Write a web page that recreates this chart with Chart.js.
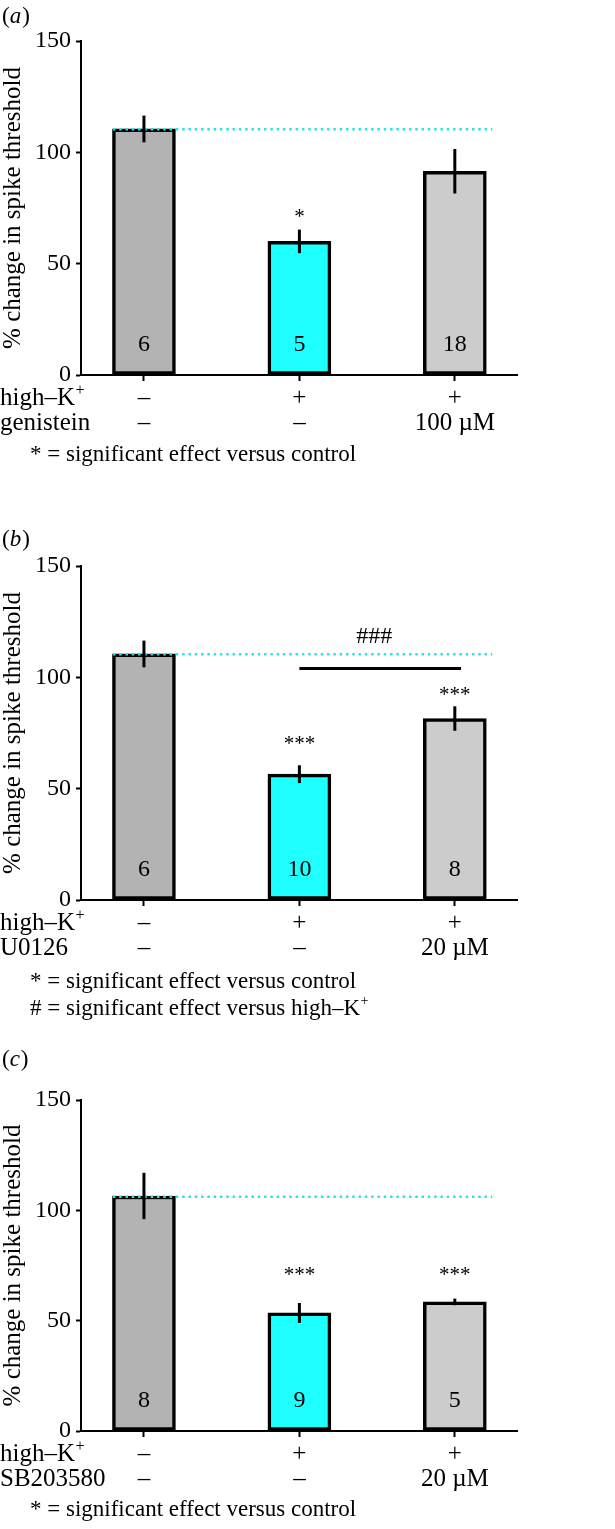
<!DOCTYPE html>
<html>
<head>
<meta charset="utf-8">
<script src="https://cdn.jsdelivr.net/npm/chart.js@4.4.1/dist/chart.umd.min.js"></script>
<style>
  body { margin: 0; background: #fff; }
  #wrap { position: relative; width: 615px; height: 1529px; }
  canvas { position: absolute; left: 0; }
</style>
</head>
<body>
<div id="wrap">
  <canvas id="panelA" width="615" height="480" style="top:0px"></canvas>
  <canvas id="panelB" width="615" height="540" style="top:480px"></canvas>
  <canvas id="panelC" width="615" height="509" style="top:1020px"></canvas>
</div>
<script>
// ---- data ----
const highK = ['–', '+', '+'];
const genistein = ['–', '–', '100 µM'];
const u0126 = ['–', '–', '20 µM'];
const sb203580 = ['–', '–', '20 µM'];

const meanA = [110.5, 60, 91.5];
const semA = [6, 5.3, 10];
const nA = ['6', '5', '18'];
const starsA = ['', '*', ''];
const starLevelA = [null, 73.2, null];
const controlA = 110.4;

const meanB = [110.5, 56.5, 81.5];
const semB = [6, 4, 5.5];
const nB = ['6', '10', '8'];
const starsB = ['', '***', '***'];
const starLevelB = [null, 72.2, 94];
const controlB = 110.4;
const hashB = { text: '###', from: 1, to: 2.04, level: 104, textLevel: 118.3 };

const meanC = [106.5, 53.5, 58.5];
const semC = [10.5, 4.5, 1.5];
const nC = ['8', '9', '5'];
const starsC = ['', '***', '***'];
const starLevelC = [null, 72.6, 72.6];
const controlC = 106.2;

const yTicks = [0, 50, 100, 150];
const barColors = ['#b3b3b3', '#1effff', '#cccccc'];

const SERIF = '"Liberation Serif", "Times New Roman", serif';
const LINE_H = 25;

// text with an optional raised "+" at the end (for K+)
function textSup(ctx, str, sup, x, y, size) {
  ctx.font = size + 'px ' + SERIF;
  ctx.fillText(str, x, y);
  if (!sup) return;
  const w = ctx.measureText(str).width;
  ctx.font = Math.round(size * 0.62) + 'px ' + SERIF;
  ctx.fillText(sup, x + w + 0.5, y - size * 0.3);
}

function makePanel(id, p) {
  const annot = {
    id: 'annot',
    afterDatasetsDraw(chart) {
      const ctx = chart.ctx, x = chart.scales.x, y = chart.scales.y;
      ctx.save();
      // error bars
      ctx.strokeStyle = '#000';
      ctx.lineWidth = 3;
      p.mean.forEach((m, i) => {
        const px = x.getPixelForValue(i);
        ctx.beginPath();
        ctx.moveTo(px, y.getPixelForValue(m - p.sem[i]));
        ctx.lineTo(px, y.getPixelForValue(m + p.sem[i]));
        ctx.stroke();
      });
      // n inside bars
      ctx.fillStyle = '#000';
      ctx.textAlign = 'center';
      ctx.textBaseline = 'middle';
      ctx.font = '24px ' + SERIF;
      p.n.forEach((t, i) => ctx.fillText(t, x.getPixelForValue(i), y.getPixelForValue(13.8)));
      // significance stars
      ctx.font = '21px ' + SERIF;
      p.stars.forEach((t, i) => {
        if (!t) return;
        ctx.fillText(t, x.getPixelForValue(i), y.getPixelForValue(p.starLevel[i]) + 5);
      });
      // ### bracket
      if (p.hash) {
        const h = p.hash;
        ctx.beginPath();
        ctx.lineWidth = 3;
        ctx.moveTo(x.getPixelForValue(h.from), y.getPixelForValue(h.level));
        ctx.lineTo(x.getPixelForValue(h.to), y.getPixelForValue(h.level));
        ctx.stroke();
        ctx.font = '24px ' + SERIF;
        ctx.fillText(h.text, x.getPixelForValue((h.from + h.to) / 2) - 6, y.getPixelForValue(h.textLevel));
      }
      // row labels left of the tick labels
      const rowTop = x.top + 6 + 4.5 + LINE_H / 2;
      ctx.textAlign = 'left';
      textSup(ctx, 'high–K', '+', 0, rowTop, 25);
      textSup(ctx, p.drugName, '', 0, rowTop + LINE_H, 25);
      // footnotes
      p.notes.forEach((t, i) => textSup(ctx, t[0], t[1], 30, p.noteY + i * 26.5, 23));
      // panel letter
      ctx.font = '23px ' + SERIF;
      ctx.fillText('(', 2, p.letterY);
      const w1 = ctx.measureText('(').width;
      ctx.font = 'italic 23px ' + SERIF;
      ctx.fillText(p.letter, 2 + w1, p.letterY);
      const w2 = ctx.measureText(p.letter).width;
      ctx.font = '23px ' + SERIF;
      ctx.fillText(')', 2 + w1 + w2 + 1, p.letterY);
      ctx.restore();
    }
  };

  return new Chart(document.getElementById(id), {
    data: {
      datasets: [
        {
          type: 'bar',
          data: p.mean.map((v, i) => ({ x: i, y: v })),
          backgroundColor: barColors,
          borderColor: '#000',
          borderWidth: 3.5,
          borderSkipped: false,
          barThickness: 63,
          order: 2
        },
        {
          type: 'line',
          data: [{ x: -0.2, y: p.control }, { x: 2.24, y: p.control }],
          borderColor: '#2fe2ea',
          borderWidth: 2.5,
          borderDash: [2.5, 3.8],
          pointRadius: 0,
          order: 1
        }
      ]
    },
    options: {
      responsive: false,
      animation: false,
      layout: { padding: { top: p.top, left: 0, right: 615 - 517, bottom: 0 } },
      plugins: { legend: { display: false }, tooltip: { enabled: false } },
      scales: {
        x: {
          type: 'linear',
          offset: false,
          min: -0.405,
          max: 2.4,
          afterBuildTicks: s => { s.ticks = [0, 1, 2].map(v => ({ value: v })); },
          afterFit: s => { s.height = p.xHeight; },
          ticks: {
            autoSkip: false,
            maxRotation: 0,
            padding: 4.5,
            color: '#000',
            font: { family: SERIF, size: 25, lineHeight: LINE_H / 25 },
            callback: v => [highK[v], p.drug[v]]
          },
          grid: { offset: false, drawOnChartArea: false, tickLength: 6, tickColor: '#000', tickWidth: 2 },
          border: { color: '#000', width: 2 }
        },
        y: {
          min: 0,
          max: 150,
          afterBuildTicks: s => { s.ticks = yTicks.map(v => ({ value: v })); },
          afterFit: s => { s.width = 81; },
          ticks: {
            padding: 5,
            color: '#000',
            font: { family: SERIF, size: 24 }
          },
          grid: { drawOnChartArea: false, tickLength: 5, tickColor: '#000', tickWidth: 2 },
          border: { color: '#000', width: 2 },
          title: {
            display: true,
            text: '% change in spike threshold',
            color: '#000',
            padding: 0,
            font: { family: SERIF, size: 25, lineHeight: 1.05 }
          }
        }
      }
    },
    plugins: [annot]
  });
}

makePanel('panelA', {
  mean: meanA, sem: semA, n: nA, stars: starsA, starLevel: starLevelA, control: controlA,
  drug: genistein, drugName: 'genistein', letter: 'a', letterY: 17,
  notes: [['* = significant effect versus control', '']], noteY: 455,
  top: 41, xHeight: 105
});
makePanel('panelB', {
  mean: meanB, sem: semB, n: nB, stars: starsB, starLevel: starLevelB, control: controlB,
  hash: hashB, drug: u0126, drugName: 'U0126', letter: 'b', letterY: 60,
  notes: [['* = significant effect versus control', ''], ['# = significant effect versus high–K', '+']], noteY: 502,
  top: 86, xHeight: 120
});
makePanel('panelC', {
  mean: meanC, sem: semC, n: nC, stars: starsC, starLevel: starLevelC, control: controlC,
  drug: sb203580, drugName: 'SB203580', letter: 'c', letterY: 40,
  notes: [['* = significant effect versus control', '']], noteY: 490,
  top: 80, xHeight: 98
});
</script>
</body>
</html>
